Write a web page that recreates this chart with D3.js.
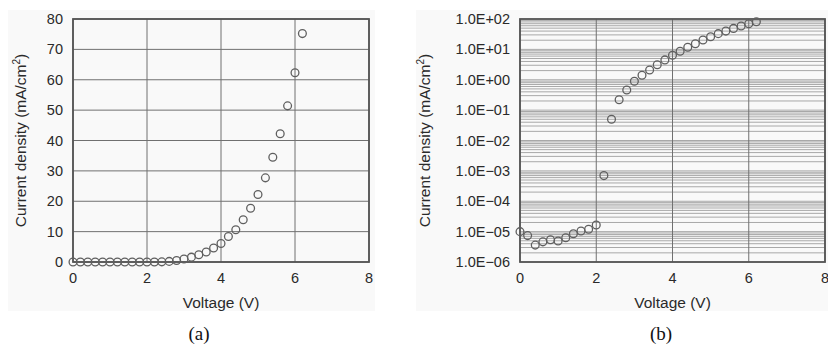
<!DOCTYPE html>
<html>
<head>
<meta charset="utf-8">
<script src="https://cdn.jsdelivr.net/npm/d3@7"></script>
<style>
  body { margin: 0; background: #fff; }
  text { font-family: "Liberation Sans", Arial, sans-serif; fill: #2a2a2a; }
</style>
</head>
<body>
<svg id="chart" width="828" height="348"></svg>
<script>
const voltage = [0, 0.2, 0.4, 0.6, 0.8, 1.0, 1.2, 1.4, 1.6, 1.8, 2.0, 2.2, 2.4, 2.6, 2.8, 3.0,
  3.2, 3.4, 3.6, 3.8, 4.0, 4.2, 4.4, 4.6, 4.8, 5.0, 5.2, 5.4, 5.6, 5.8, 6.0, 6.2];
// (a) linear current density, mA/cm2
const currentLinear = [0, 0, 0, 0, 0, 0, 0, 0, 0, 0, 0, 0, 0.05, 0.2, 0.5, 1.0,
  1.6, 2.4, 3.3, 4.6, 6.1, 8.4, 10.6, 13.9, 17.7, 22.2, 27.7, 34.5, 42.2, 51.4, 62.3, 75.2];
// (b) log current density, mA/cm2
const currentLog = [1.0e-5, 7.4e-6, 3.6e-6, 4.6e-6, 5.4e-6, 4.9e-6, 6.3e-6, 8.5e-6, 1.05e-5, 1.2e-5, 1.65e-5, 7e-4,
  0.05, 0.22, 0.46, 0.89, 1.4, 2.1, 3.1, 4.5, 6.4, 8.7, 11.7, 15.4, 20.4, 26, 33, 40, 49, 58.6, 70, 81];
const xTicks = [0, 2, 4, 6, 8];
const yTicksLinear = [0, 10, 20, 30, 40, 50, 60, 70, 80];
const yTicksLog = [1e-6, 1e-5, 1e-4, 1e-3, 1e-2, 1e-1, 1e0, 1e1, 1e2];

const svg = d3.select('#chart');

function logLabel(v) {
  const e = Math.round(Math.log10(v));
  const s = (e < 0 ? '\u2212' : '+') + String(Math.abs(e)).padStart(2, '0');
  return '1.0E' + s;
}

function yTitle(g, x, y) {
  const t = g.append('text')
    .attr('transform', `translate(${x},${y}) rotate(-90)`)
    .attr('text-anchor', 'middle')
    .style('font-size', '15.5px');
  t.append('tspan').text('Current density (mA/cm');
  t.append('tspan').attr('dy', -6).style('font-size', '10px').text('2');
  t.append('tspan').attr('dy', 6).text(')');
}

function panel(cfg) {
  const g = svg.append('g');
  g.append('rect')
    .attr('x', cfg.bg[0]).attr('y', cfg.bg[1])
    .attr('width', cfg.bg[2]).attr('height', cfg.bg[3])
    .attr('fill', '#f9f9f9');

  const x = d3.scaleLinear().domain([0, 8]).range(cfg.xr);
  const y = cfg.y;
  const [top, bottom] = [y.range()[1], y.range()[0]];

  // horizontal grid
  g.append('g').selectAll('line').data(cfg.hGrid).join('line')
    .attr('x1', cfg.xr[0]).attr('x2', cfg.xr[1])
    .attr('y1', d => y(d)).attr('y2', d => y(d))
    .attr('stroke', cfg.hColor).attr('stroke-width', 1);

  // vertical grid
  g.append('g').selectAll('line').data(xTicks).join('line')
    .attr('x1', d => x(d)).attr('x2', d => x(d))
    .attr('y1', top).attr('y2', bottom)
    .attr('stroke', '#707070').attr('stroke-width', 1);

  // frame
  g.append('rect')
    .attr('x', cfg.xr[0]).attr('y', top)
    .attr('width', cfg.xr[1] - cfg.xr[0]).attr('height', bottom - top)
    .attr('fill', 'none').attr('stroke', '#555').attr('stroke-width', 1.8);

  // tick labels
  g.append('g').selectAll('text').data(xTicks).join('text')
    .attr('x', d => x(d)).attr('y', bottom + 21)
    .attr('text-anchor', 'middle').style('font-size', '14.5px')
    .text(d => d);

  g.append('g').selectAll('text').data(cfg.yTicks).join('text')
    .attr('x', cfg.xr[0] - 10).attr('y', d => y(d) + 5)
    .attr('text-anchor', 'end').style('font-size', '14.5px')
    .text(cfg.yFormat);

  // markers
  g.append('g').selectAll('circle').data(voltage).join('circle')
    .attr('cx', d => x(d))
    .attr('cy', (d, i) => y(cfg.values[i]))
    .attr('r', 3.9)
    .attr('fill', 'none').attr('stroke', '#5f5f5f').attr('stroke-width', 1.3);

  g.append('text')
    .attr('x', (cfg.xr[0] + cfg.xr[1]) / 2).attr('y', bottom + 46)
    .attr('text-anchor', 'middle').style('font-size', '15.5px')
    .text('Voltage (V)');

  yTitle(g, cfg.titleX, (top + bottom) / 2);

  g.append('text')
    .attr('x', cfg.capX).attr('y', 340)
    .attr('text-anchor', 'middle')
    .style('font-family', '"Liberation Serif", "Times New Roman", serif')
    .style('font-size', '19px')
    .style('fill', '#111')
    .text(cfg.caption);
}

const yLin = d3.scaleLinear().domain([0, 80]).range([262, 19]);
panel({
  bg: [8, 10, 367, 301],
  xr: [73, 369],
  y: yLin,
  hGrid: yTicksLinear,
  hColor: '#707070',
  yTicks: yTicksLinear,
  yFormat: d => d,
  values: currentLinear,
  titleX: 26,
  capX: 199,
  caption: '(a)'
});

const yLog = d3.scaleLog().domain([1e-6, 1e2]).range([262, 19]);
const minor = [];
yTicksLog.slice(0, -1).forEach(d => { for (let k = 1; k <= 9; k++) minor.push(d * k); });
minor.push(1e2);
panel({
  bg: [416, 10, 412, 301],
  xr: [520, 825],
  y: yLog,
  hGrid: minor,
  hColor: '#a8a8a8',
  yTicks: yTicksLog,
  yFormat: logLabel,
  values: currentLog,
  titleX: 430,
  capX: 661,
  caption: '(b)'
});
</script>
</body>
</html>
